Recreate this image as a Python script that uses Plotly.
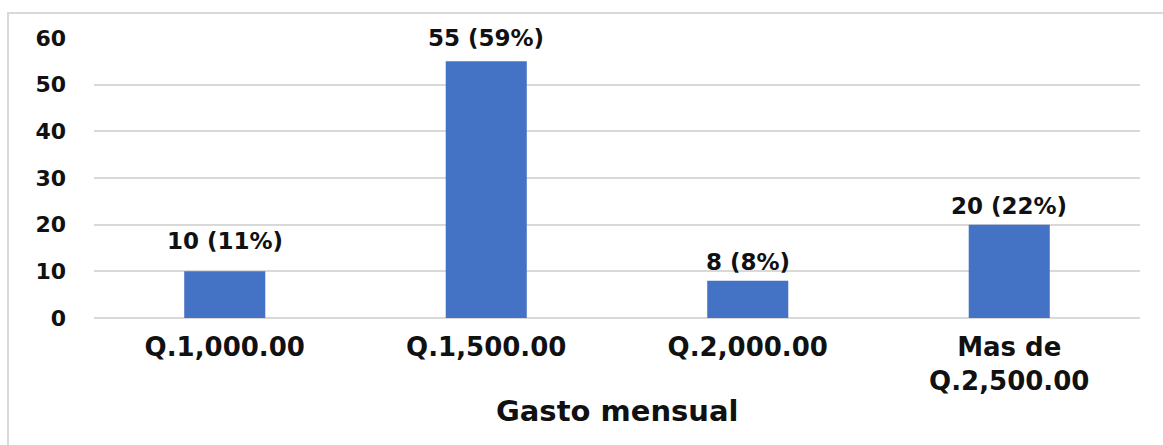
import plotly.graph_objects as go

categories = ["Q.1,000.00", "Q.1,500.00", "Q.2,000.00", "Mas de<br>Q.2,500.00"]
counts = [10, 55, 8, 20]
percents = ["11%", "59%", "8%", "22%"]
y_ticks = [0, 10, 20, 30, 40, 50, 60]
x_title = "Gasto mensual"

label_shift = [30, 23, 19, 19]  # pixel offsets of the value labels above bars

FONT = "DejaVu Sans"
W, H = 1163, 445
L, R, T, B = 94, 23, 38, 127
pw, ph = W - L - R, H - T - B

fig = go.Figure()
fig.add_trace(go.Bar(
    x=categories, y=counts, marker=dict(color="#4472C4", line=dict(width=0)),
    width=0.31, hoverinfo="x+y",
))

for c, v, p, s in zip(categories, counts, percents, label_shift):
    fig.add_annotation(x=c, y=v, text=f"<b>{v} ({p})</b>", showarrow=False,
                       yanchor="middle", yshift=s,
                       font=dict(family=FONT, size=23, color="#111111"))

fig.add_annotation(xref="paper", yref="paper", x=0.5, y=(T + ph - 411) / ph,
                   text=f"<b>{x_title}</b>", showarrow=False, yanchor="middle",
                   font=dict(family=FONT, size=29, color="#111111"))

# border of the chart area
fig.add_shape(type="rect", xref="paper", yref="paper",
              x0=(8 - L) / pw, x1=(W + 20 - L) / pw,
              y0=-(H + 20 - T - ph) / ph, y1=1 + (T - 13) / ph,
              line=dict(color="#d9d9d9", width=2), fillcolor="rgba(0,0,0,0)", layer="below")

fig.update_layout(
    width=W, height=H,
    margin=dict(l=L, r=R, t=T, b=B, autoexpand=False),
    paper_bgcolor="white", plot_bgcolor="white",
    showlegend=False,
    font=dict(family=FONT, color="#111111"),
)
fig.update_xaxes(
    tickfont=dict(family=FONT, size=26, color="#111111", weight="bold"),
    showgrid=False, showline=False, ticks="", ticklabelstandoff=11,
)
fig.update_yaxes(
    range=[0, 60], tickvals=y_ticks,
    tickfont=dict(family=FONT, size=22, color="#111111", weight="bold"),
    showgrid=True, gridcolor="#d9d9d9", gridwidth=1.5,
    zeroline=True, zerolinecolor="#d9d9d9", zerolinewidth=1.5,
    showline=False, ticks="", ticklabelstandoff=27,
)

fig.write_html("out.html", config={"displayModeBar": False},
               post_script="document.body.style.margin='0';document.body.style.overflow='hidden';")
